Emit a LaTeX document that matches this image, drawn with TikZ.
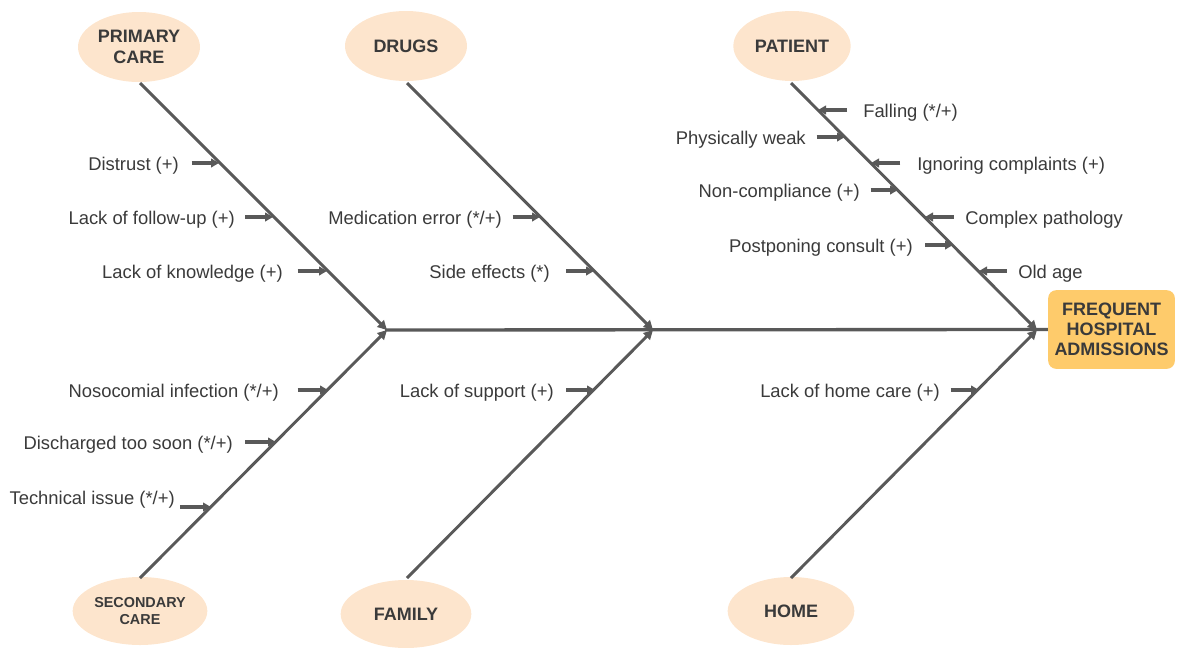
\documentclass[tikz,border=0pt]{standalone}
\usepackage{fontspec}
\setmainfont{Liberation Sans}
\usetikzlibrary{arrows.meta,shapes.geometric}
\definecolor{ln}{HTML}{595959}
\definecolor{tx}{HTML}{3A3A3A}
\definecolor{ell}{HTML}{FDE5CD}
\definecolor{eff}{HTML}{FECB6B}
\begin{document}
\begin{tikzpicture}[x=0.75pt,y=-0.75pt,
  cat/.style={ellipse, fill=ell, inner sep=0pt, minimum width=91.5pt, minimum height=52.5pt,
    text=tx, font=\bfseries\fontsize{13.5}{15.5}\selectfont, align=center},
  catlow/.style={cat, minimum width=98pt, minimum height=51pt},
  lbl/.style={inner sep=0pt, text=tx, yshift=-1.8pt, font=\fontsize{13.8}{16}\selectfont},
  bone/.style={draw=ln, line width=2.2pt, -{Triangle[length=7pt,width=7pt]}},
  spine/.style={draw=ln, line width=2.5pt},
  cause/.style={draw=ln, line width=2.4pt, -{Triangle[length=6pt,width=6.5pt]}}]
\useasboundingbox (0,0) rectangle (1179,647);

% effect box
\node[fill=eff, rounded corners=6pt, minimum width=95pt, minimum height=59pt, inner sep=0pt,
  text=tx, font=\bfseries\fontsize{13.5}{15}\selectfont, align=center] (eff) at (1111.5,329.5)
  {FREQUENT\\HOSPITAL\\ADMISSIONS};

% category ellipses
\node[cat] (pc) at (139,47) {PRIMARY\\CARE};
\node[cat] (dr) at (406,46) {DRUGS};
\node[cat, minimum width=88pt] (pa) at (792,46) {PATIENT};
\node[catlow, font=\bfseries\fontsize{10.8}{13}\selectfont, minimum width=101pt] (sc) at (140,611) {SECONDARY\\CARE};
\node[catlow] (fa) at (406,614) {FAMILY};
\node[catlow, minimum width=95pt] (ho) at (791,611) {HOME};

% bone coordinates
\coordinate (pcS) at (140,83);
\coordinate (drS) at (407,83);
\coordinate (paS) at (791,83);
\coordinate (scS) at (140,578);
\coordinate (faS) at (407,578);
\coordinate (hoS) at (791,578);
\coordinate (j1) at (387,330);
\coordinate (j2) at (653,330);
\coordinate (j3) at (1037,330);
\coordinate (sp0) at (385,330);

% spine
\draw[spine] (sp0) -- (eff.west);

% bones
\draw[bone] (pcS) -- (j1);
\draw[bone] (scS) -- (j1);
\draw[bone] (drS) -- (j2);
\draw[bone] (faS) -- (j2);
\draw[bone] (paS) -- (j3);
\draw[bone] (hoS) -- (j3);

% primary care causes
\node[lbl, anchor=east] (a1) at (179,163) {Distrust (+)};
\coordinate (a1h) at (219,163);
\draw[cause, shorten <=9.5pt] (a1h -| a1.east) -- (a1h);
\node[lbl, anchor=east] (a2) at (235,217) {Lack of follow-up (+)};
\coordinate (a2h) at (273,217);
\draw[cause, shorten <=7.5pt] (a2h -| a2.east) -- (a2h);
\node[lbl, anchor=east] (a3) at (283,271) {Lack of knowledge (+)};
\coordinate (a3h) at (327,271);
\draw[cause, shorten <=11pt] (a3h -| a3.east) -- (a3h);

% drugs causes
\node[lbl, anchor=east] (b1) at (502,217) {Medication error (*/+)};
\coordinate (b1h) at (540,217);
\draw[cause, shorten <=8pt] (b1h -| b1.east) -- (b1h);
\node[lbl, anchor=east] (b2) at (550,271) {Side effects (*)};
\coordinate (b2h) at (594,271);
\draw[cause, shorten <=12pt] (b2h -| b2.east) -- (b2h);

% patient causes
\node[lbl, anchor=west] (c1) at (863,110) {Falling (*/+)};
\coordinate (c1h) at (818,110);
\draw[cause, shorten <=12pt] (c1h -| c1.west) -- (c1h);
\node[lbl, anchor=east] (c2) at (806,137) {Physically weak};
\coordinate (c2h) at (845,137);
\draw[cause, shorten <=8pt] (c2h -| c2.east) -- (c2h);
\node[lbl, anchor=west] (c3) at (917,163) {Ignoring complaints (+)};
\coordinate (c3h) at (871,163);
\draw[cause, shorten <=12.5pt] (c3h -| c3.west) -- (c3h);
\node[lbl, anchor=east] (c4) at (860,190) {Non-compliance (+)};
\coordinate (c4h) at (898,190);
\draw[cause, shorten <=8pt] (c4h -| c4.east) -- (c4h);
\node[lbl, anchor=west] (c5) at (965,217) {Complex pathology};
\coordinate (c5h) at (925,217);
\draw[cause, shorten <=8.5pt] (c5h -| c5.west) -- (c5h);
\node[lbl, anchor=east] (c6) at (913,245) {Postponing consult (+)};
\coordinate (c6h) at (953,245);
\draw[cause, shorten <=9pt] (c6h -| c6.east) -- (c6h);
\node[lbl, anchor=west] (c7) at (1018,271) {Old age};
\coordinate (c7h) at (979,271);
\draw[cause, shorten <=8.5pt] (c7h -| c7.west) -- (c7h);

% secondary care causes
\node[lbl, anchor=east] (d1) at (279,390) {Nosocomial infection (*/+)};
\coordinate (d1h) at (328,390);
\draw[cause, shorten <=14pt] (d1h -| d1.east) -- (d1h);
\node[lbl, anchor=east] (d2) at (233,442) {Discharged too soon (*/+)};
\coordinate (d2h) at (276,442);
\draw[cause, shorten <=9pt] (d2h -| d2.east) -- (d2h);
\node[lbl, anchor=east] (d3) at (175,497) {Technical issue (*/+)};
\coordinate (d3h) at (211,507);
\coordinate (d3t) at (180,507);
\draw[cause] (d3t) -- (d3h);

% family causes
\node[lbl, anchor=east] (e1) at (554,390) {Lack of support (+)};
\coordinate (e1h) at (595,390);
\draw[cause, shorten <=9pt] (e1h -| e1.east) -- (e1h);

% home causes
\node[lbl, anchor=east] (f1) at (940,390) {Lack of home care (+)};
\coordinate (f1h) at (979,390);
\draw[cause, shorten <=8pt] (f1h -| f1.east) -- (f1h);
\end{tikzpicture}
\end{document}
